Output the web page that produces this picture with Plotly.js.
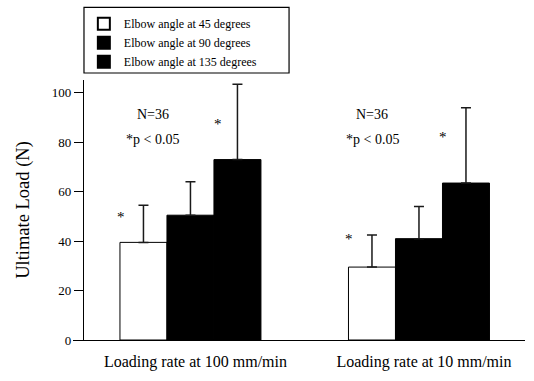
<!DOCTYPE html>
<html>
<head>
<meta charset="utf-8">
<script src="https://cdn.plot.ly/plotly-3.0.1.min.js"></script>
<style>html,body{margin:0;padding:0;background:#fff;}#chart{width:534px;height:381px;}</style>
</head>
<body>
<div id="chart"></div>
<script>
// ---- data ----
const categories = ["Loading rate at 100 mm/min", "Loading rate at 10 mm/min"];
const seriesNames = ["Elbow angle at 45 degrees", "Elbow angle at 90 degrees", "Elbow angle at 135 degrees"];
const load45 = [39.5, 29.5];
const load90 = [50.5, 41];
const load135 = [73, 63.5];
const err45 = [15, 13];
const err90 = [13.5, 13];
const err135 = [30.5, 30.5];
const yTicks = [0, 20, 40, 60, 80, 100];

const FONT = "Liberation Serif";
const xIdx = categories.map((c, i) => i);

function barTrace(name, vals, errs, fill) {
  return {
    type: "bar",
    name: name,
    x: xIdx,
    y: vals,
    marker: {color: fill, line: {color: "#000", width: 1}},
    error_y: {type: "data", array: errs, arrayminus: errs.map(() => 0), symmetric: false,
              color: "#1a1a1a", thickness: 1.5, width: 5},
  };
}

const traces = [
  barTrace(seriesNames[0], load45, err45, "#ffffff"),
  barTrace(seriesNames[1], load90, err90, "#000000"),
  barTrace(seriesNames[2], load135, err135, "#000000"),
];

const txtFont = {family: FONT, size: 14, color: "#000"};
const astFont = {family: FONT, size: 15, color: "#000"};
const annotations = [
  {x: -0.164, y: 91.4, text: "N=36", font: txtFont},
  {x: -0.164, y: 81.3, text: "*p < 0.05", font: txtFont},
  {x: 0.795, y: 91.4, text: "N=36", font: txtFont},
  {x: 0.795, y: 81.3, text: "*p < 0.05", font: txtFont},
  {x: -0.304, y: 49.8, text: "*", font: astFont},
  {x: 0.121, y: 87.4, text: "*", font: astFont},
  {x: 0.694, y: 41.0, text: "*", font: astFont},
  {x: 1.104, y: 82.3, text: "*", font: astFont},
].map(a => Object.assign({xref: "x", yref: "y", showarrow: false, xanchor: "center", yanchor: "middle"}, a));

const layout = {
  width: 534, height: 381,
  margin: {l: 73, r: 9, t: 78, b: 41},
  paper_bgcolor: "#fff", plot_bgcolor: "#fff",
  font: {family: FONT, color: "#000"},
  barmode: "group",
  bargap: 0.383,
  bargroupgap: 0,
  showlegend: true,
  legend: {
    x: 0.024, y: 1.272, xanchor: "left", yanchor: "top",
    borderwidth: 0, bgcolor: "rgba(0,0,0,0)",
    font: {family: FONT, size: 12, color: "#000"},
    traceorder: "normal",
    tracegroupgap: 0,
    itemsizing: "constant",
  },
  shapes: [
    {type: "rect", xref: "paper", yref: "paper",
     x0: 0.0243, x1: 0.478, y0: 1.027, y1: 1.279,
     line: {color: "#000", width: 1.2}, fillcolor: "rgba(0,0,0,0)", layer: "above"},
  ],
  xaxis: {
    range: [-0.514, 1.464],
    tickmode: "array", tickvals: xIdx, ticktext: categories,
    tickfont: {family: FONT, size: 16, color: "#000"},
    showline: true, linecolor: "#000", linewidth: 1,
    showgrid: false, zeroline: false, ticks: "",
    ticklabelshift: 5,
    ticklabelstandoff: 7,
    fixedrange: true,
  },
  yaxis: {
    range: [0, 105.2],
    anchor: "free", position: 0.022,
    tickmode: "array", tickvals: yTicks,
    tickfont: {family: FONT, size: 13, color: "#000"},
    ticks: "outside", ticklen: 9, tickcolor: "#000", tickwidth: 1,
    showline: true, linecolor: "#000", linewidth: 1,
    showgrid: false, zeroline: false,
    title: {text: "Ultimate Load (N)", font: {family: FONT, size: 18.5, color: "#000"}, standoff: 16},
    fixedrange: true,
  },
  annotations: annotations,
};

Plotly.newPlot("chart", traces, layout, {staticPlot: true, displayModeBar: false});
</script>
</body>
</html>
